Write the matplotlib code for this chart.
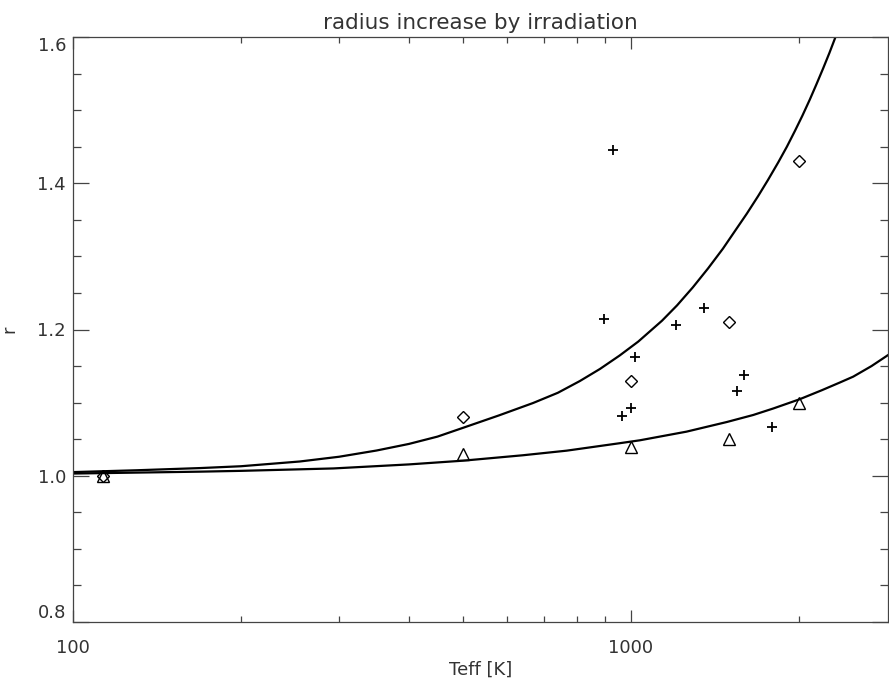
import matplotlib
matplotlib.use("Agg")
import matplotlib.pyplot as plt
from matplotlib.ticker import FixedLocator, NullFormatter, FuncFormatter

# curves (Teff, r)
t_upper = [100, 130, 169, 200, 255, 300, 350, 400, 450, 500, 580, 668, 740, 810, 880, 955,
           1031, 1137, 1210, 1291, 1375, 1462, 1536, 1614, 1691, 1761, 1837, 1904, 1968,
           2030, 2093, 2150, 2211, 2270, 2327]
r_upper = [1.005, 1.0075, 1.0105, 1.013, 1.0195, 1.026, 1.0345, 1.0435, 1.0535, 1.0655,
           1.0825, 1.0995, 1.1135, 1.1295, 1.146, 1.1645, 1.1835, 1.212, 1.233, 1.2575,
           1.2835, 1.3105, 1.3345, 1.3585, 1.3825, 1.4045, 1.4285, 1.450, 1.4715, 1.4925,
           1.5145, 1.535, 1.557, 1.5785, 1.600]

t_lower = [100, 169, 200, 293, 400, 500, 640, 767, 955, 1038, 1258, 1486, 1657, 1800,
           2005, 2200, 2369, 2503, 2700, 2890]
r_lower = [1.003, 1.0056, 1.0067, 1.0100, 1.0155, 1.0206, 1.028, 1.0343, 1.0445, 1.0485,
           1.0603, 1.0735, 1.0831, 1.092, 1.1045, 1.117, 1.1275, 1.1355, 1.150, 1.165]

# model points
t_diam = [113, 500, 1000, 1500, 2000]
r_diam = [1.0, 1.08, 1.13, 1.21, 1.43]
t_tri = [113, 500, 1000, 1500, 2000]
r_tri = [1.0, 1.03, 1.04, 1.05, 1.10]

# observed planets
t_obs = [930, 896, 1203, 1351, 1018, 1002, 966, 1594, 1551, 1791]
r_obs = [1.446, 1.215, 1.206, 1.229, 1.163, 1.092, 1.082, 1.138, 1.116, 1.067]

plt.rcParams['font.family'] = ['DejaVu Sans']
fig = plt.figure(figsize=(8.89, 6.87), dpi=100)
ax = fig.add_axes([73/889, 1 - 622/687, 815/889, 585/687])

ax.plot(t_upper, r_upper, color='black', lw=1.6)
ax.plot(t_lower, r_lower, color='black', lw=1.6)
ax.plot(t_diam, r_diam, 'D', ms=6, mfc='none', mec='black', mew=1.0)
ax.plot(t_tri, r_tri, '^', ms=8.5, mfc='none', mec='black', mew=1.0)
ax.plot(t_obs, r_obs, '+', ms=7, color='black', mew=1.3)

ax.set_xscale('log')
ax.set_xlim(100, 2890)
ax.set_ylim(0.8, 1.6)

ax.xaxis.set_major_locator(FixedLocator([100, 1000]))
ax.xaxis.set_minor_locator(FixedLocator([200, 300, 400, 500, 600, 700, 800, 900, 2000]))
ax.xaxis.set_major_formatter(FuncFormatter(lambda v, p: '%d' % v))
ax.xaxis.set_minor_formatter(NullFormatter())
ax.set_yticks([0.8, 1.0, 1.2, 1.4, 1.6])
ax.set_yticks([0.85, 0.9, 0.95, 1.05, 1.1, 1.15, 1.25, 1.3, 1.35, 1.45, 1.5, 1.55], minor=True)
ax.yaxis.set_major_formatter(FuncFormatter(lambda v, p: '%.1f' % v))

axcol = '#444444'
for s in ax.spines.values():
    s.set_color(axcol)
    s.set_linewidth(0.9)
ax.tick_params(axis='both', which='both', direction='in', top=True, right=True,
               colors=axcol, labelcolor='#333333', labelsize=13, width=0.9)
ax.tick_params(axis='x', which='major', length=8.6, pad=12)
ax.tick_params(axis='x', which='minor', length=4.3)
ax.tick_params(axis='y', which='major', length=11.5, pad=5)
ax.tick_params(axis='y', which='minor', length=5.8)

ylabs = ax.get_yticklabels()
ylabs[0].set_verticalalignment('bottom')
ylabs[-1].set_verticalalignment('top')

ax.set_xlabel('Teff [K]', fontsize=13, color='#333333', labelpad=3)
ax.set_ylabel('r', fontsize=13, color='#333333', labelpad=14)
ax.set_title('radius increase by irradiation', fontsize=15.5, color='#333333', pad=6)

fig.savefig('out.png', dpi=100)
